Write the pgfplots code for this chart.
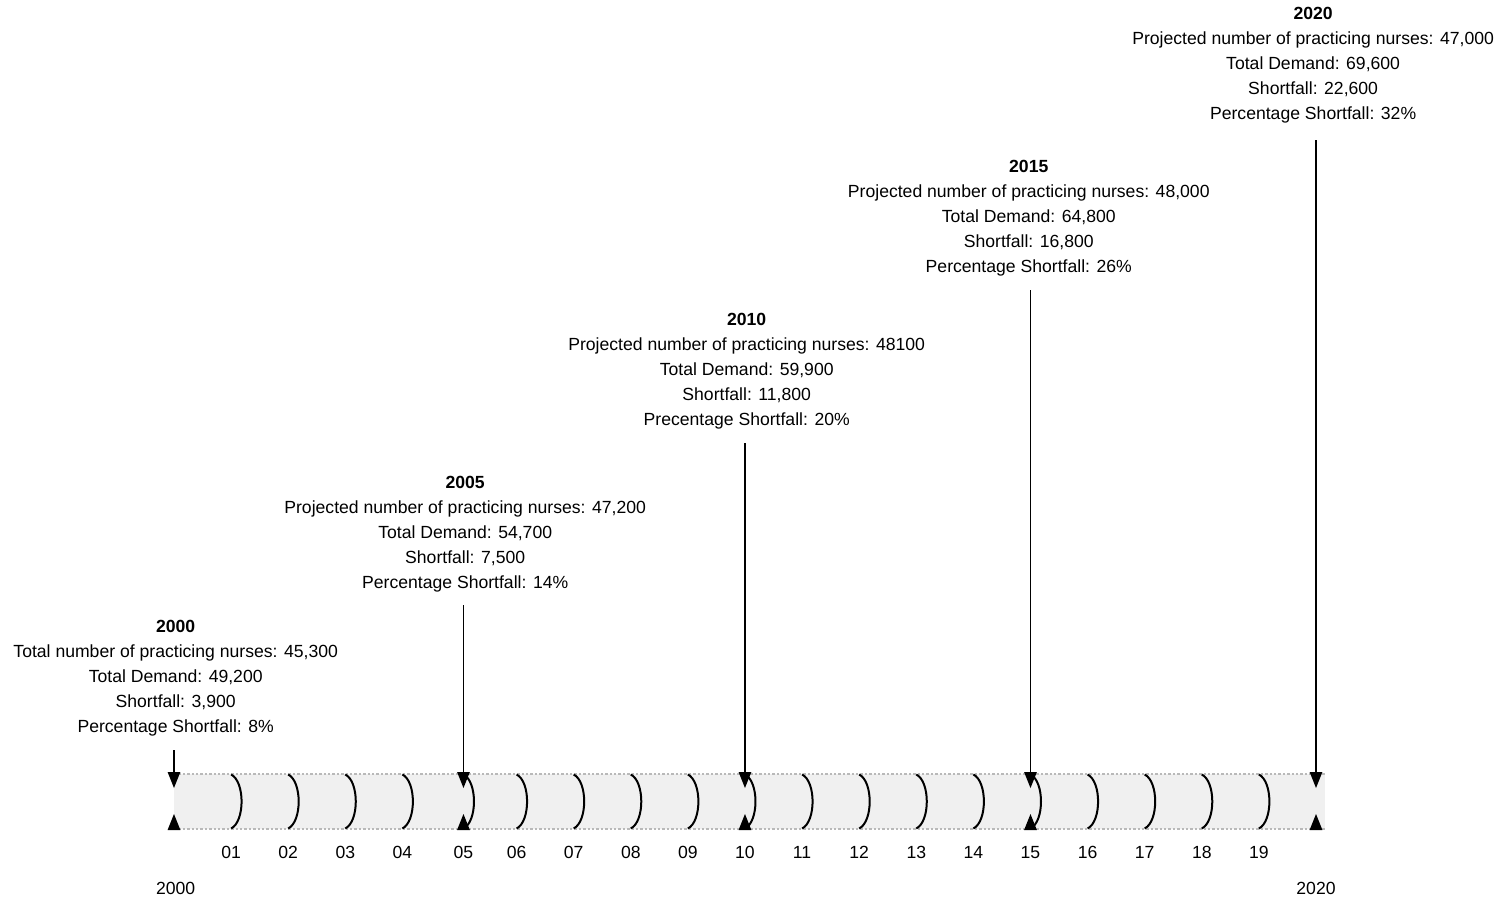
\documentclass[border=0pt]{standalone}
\usepackage{fontspec}
\setmainfont{Liberation Sans}
\usepackage{pgfplots}
\pgfplotsset{compat=1.18}

\pgfdeclareplotmark{bracket}{%
  \pgfpathmoveto{\pgfpoint{0pt}{13.5pt}}%
  \pgfpathcurveto{\pgfpoint{7pt}{10pt}}{\pgfpoint{7pt}{-10pt}}{\pgfpoint{0pt}{-13.5pt}}%
  \pgfusepathqstroke}
\pgfdeclareplotmark{downtri}{%
  \pgfpathmoveto{\pgfpoint{-3.2pt}{8pt}}\pgfpathlineto{\pgfpoint{3.2pt}{8pt}}%
  \pgfpathlineto{\pgfpoint{0pt}{0pt}}\pgfpathclose\pgfusepathqfill}
\pgfdeclareplotmark{uptri}{%
  \pgfpathmoveto{\pgfpoint{-3.2pt}{-8pt}}\pgfpathlineto{\pgfpoint{3.2pt}{-8pt}}%
  \pgfpathlineto{\pgfpoint{0pt}{0pt}}\pgfpathclose\pgfusepathqfill}

\begin{document}
\begin{tikzpicture}
\begin{axis}[
  scale only axis, width=750.5pt, height=449.5pt,
  xmin=1996.953, xmax=2023.240, ymin=0, ymax=899,
  clip=false,
  axis x line*=bottom, axis y line=none,
  x axis line style={draw=none},
  major tick length=0pt, tick style={draw=none},
  ytick=\empty,
  xtick={2001,2002,2003,2004,2005.07,2006,2007,2008,2009,2010,2011,2012,2013,2014,2015,2016,2017,2018,2019},
  xticklabels={01,02,03,04,05,06,07,08,09,10,11,12,13,14,15,16,17,18,19},
  xticklabel style={anchor=base, yshift=20.5pt, font=\fontsize{8.8}{10}\selectfont},
  /pgf/number format/assume math mode=true,
]
% band
\addplot[fill=gray!12, draw=none] coordinates {(2000,70) (2020.15,70) (2020.15,125) (2000,125)} -- cycle;
\addplot[gray!55, line width=1.2pt, densely dotted] coordinates {(2000,125) (2020.15,125)};
\addplot[gray!55, line width=1.2pt, densely dotted] coordinates {(2000,70) (2020.15,70)};
% brackets
\addplot[only marks, mark=bracket, mark options={line width=1pt, black}] coordinates {
 (2001,97.5) (2002,97.5) (2003,97.5) (2004,97.5) (2005.07,97.5) (2006,97.5) (2007,97.5)
 (2008,97.5) (2009,97.5) (2010,97.5) (2011,97.5) (2012,97.5) (2013,97.5) (2014,97.5)
 (2015,97.5) (2016,97.5) (2017,97.5) (2018,97.5) (2019,97.5)};
% arrows
\addplot[black, line width=0.7pt] coordinates {(2000,149) (2000,118)};
\addplot[black, line width=0.7pt] coordinates {(2005.07,294) (2005.07,118)};
\addplot[black, line width=0.7pt] coordinates {(2010,456) (2010,118)};
\addplot[black, line width=0.7pt] coordinates {(2015,609) (2015,118)};
\addplot[black, line width=0.7pt] coordinates {(2020,759) (2020,118)};
\addplot[only marks, mark=downtri, black] coordinates {(2000,111) (2005.07,111) (2010,111) (2015,111) (2020,111)};
\addplot[only marks, mark=uptri, black] coordinates {(2000,85) (2005.07,85) (2010,85) (2015,85) (2020,85)};
% text blocks
\begin{scope}[every node/.style={align=center, font=\fontsize{8.8}{12.5}\selectfont}]
\node at (axis cs:2000.03,221) {\textbf{2000}\\Total number of practicing nurses: 45,300\\Total Demand: 49,200\\Shortfall: 3,900\\Percentage Shortfall: 8\%};
\node at (axis cs:2005.1,365) {\textbf{2005}\\Projected number of practicing nurses: 47,200\\Total Demand: 54,700\\Shortfall: 7,500\\Percentage Shortfall: 14\%};
\node at (axis cs:2010.03,527.5) {\textbf{2010}\\Projected number of practicing nurses: 48100\\Total Demand: 59,900\\Shortfall: 11,800\\Precentage Shortfall: 20\%};
\node at (axis cs:2014.97,681) {\textbf{2015}\\Projected number of practicing nurses: 48,000\\Total Demand: 64,800\\Shortfall: 16,800\\Percentage Shortfall: 26\%};
\node at (axis cs:2019.95,833.5) {\textbf{2020}\\Projected number of practicing nurses: 47,000\\Total Demand: 69,600\\Shortfall: 22,600\\Percentage Shortfall: 32\%};
\node at (axis cs:2000.03,11) {2000};
\node at (axis cs:2020,11) {2020};
\end{scope}
\path (rel axis cs:0,0) rectangle (rel axis cs:1,1);
\end{axis}
\end{tikzpicture}
\end{document}
